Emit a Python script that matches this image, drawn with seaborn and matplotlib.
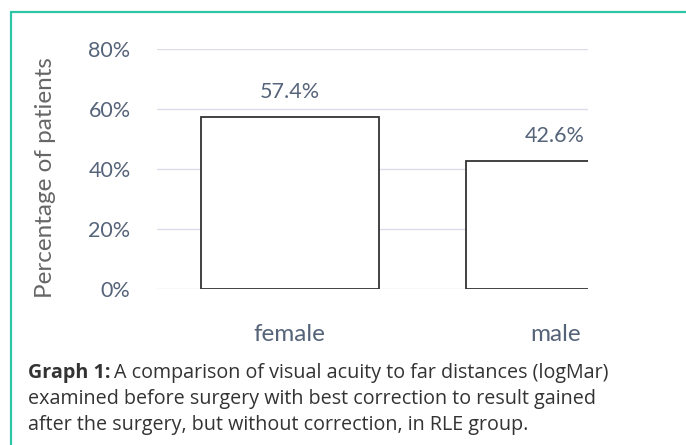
import matplotlib
matplotlib.use("Agg")
import matplotlib.pyplot as plt
import matplotlib.patches as mpatches
import seaborn as sns
import pandas as pd

categories = ["female", "male"]
percentages = [57.4, 42.6]
value_labels = ["57.4%", "42.6%"]
y_ticks = [0, 20, 40, 60, 80]
y_tick_labels = ["0%", "20%", "40%", "60%", "80%"]

sns.set_style("white")
plt.rcParams["font.family"] = ["Lato", "DejaVu Sans"]

df = pd.DataFrame({"sex": categories, "pct": percentages})

fig = plt.figure(figsize=(6.86, 4.45), dpi=100)
ax = fig.add_axes([157 / 686, 1 - 289 / 445, (588 - 157) / 686, 240 / 445])

sns.barplot(data=df, x="sex", y="pct", ax=ax, color="white", edgecolor="#333333",
            linewidth=1.3, width=0.67, zorder=3)

ax.set_xlim(-0.5, 1.124)
ax.set_ylim(0, 80)
ax.set_yticks(y_ticks)
ax.set_yticklabels(y_tick_labels)
ax.yaxis.grid(True, color="#dcdde8", linewidth=1, zorder=0)
ax.set_axisbelow(True)
for s in ax.spines.values():
    s.set_visible(False)
txt_col = "#56647a"
ax.tick_params(axis="y", length=0, pad=19, labelsize=15.5, labelcolor=txt_col)
ax.tick_params(axis="x", length=0, pad=25, labelsize=17.5, labelcolor=txt_col)
ax.set_xlabel("")
ax.set_ylabel("Percentage of patients", fontsize=17.5, color="#666666")
ax.yaxis.set_label_coords(-0.234, 0.4625)

for i, (v, lab) in enumerate(zip(percentages, value_labels)):
    ax.text(i, v + 5, lab, ha="center", va="bottom", fontsize=15.5, color=txt_col,
            clip_on=False)

# teal frame around the figure (right/bottom run off the image)
fig.patches.append(mpatches.Rectangle((10.5 / 686, -0.1), 1.0, 1 - 11.5 / 445 + 0.1,
                                      transform=fig.transFigure, fill=False,
                                      edgecolor="#2ec4a6", linewidth=1.6))

# caption
cap_font = ["Open Sans", "DejaVu Sans"]
cap_size = 14.2
x0 = 28 / 686
t = fig.text(x0, 1 - 378 / 445, "Graph 1:", fontsize=cap_size, fontweight="bold",
             color="#333333", family=cap_font, va="baseline")
fig.canvas.draw()
bb = t.get_window_extent()
fig.text(bb.x1 / fig.bbox.width + 4 / 686, 1 - 378 / 445,
         "A comparison of visual acuity to far distances (logMar)",
         fontsize=cap_size, color="#333333", family=cap_font, va="baseline")
fig.text(x0, 1 - 404 / 445, "examined before surgery with best correction to result gained",
         fontsize=cap_size, color="#333333", family=cap_font, va="baseline")
fig.text(x0, 1 - 430 / 445, "after the surgery, but without correction, in RLE group.",
         fontsize=cap_size, color="#333333", family=cap_font, va="baseline")

fig.savefig("out.png", dpi=100)
